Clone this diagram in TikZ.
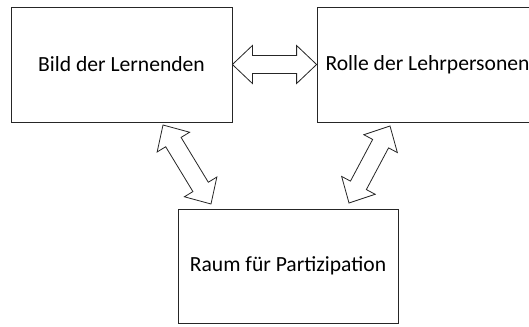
\documentclass[tikz,border=0pt]{standalone}
\usepackage{fontspec}
\setmainfont{Carlito}
\usepackage{tikz}
\usetikzlibrary{calc}
\tikzstyle{box}=[rectangle,draw=black!85,line width=0.8pt,minimum width=221pt,minimum height=115pt,font=\fontsize{21.6}{25}\selectfont]
\tikzset{blockarrow/.style={draw=black!85,fill=white,line width=0.8pt,line join=miter}}
\newcommand*{\dblarrow}[2]{
    \draw [blockarrow] (#1)
      -- ($(#1)!20pt!(#2)!19pt!90:(#2)$) -- ($(#1)!20pt!(#2)!9pt!90:(#2)$)
      -- ($(#2)!20pt!(#1)!9pt!-90:(#1)$) -- ($(#2)!20pt!(#1)!19pt!-90:(#1)$)
      -- (#2)
      -- ($(#2)!20pt!(#1)!19pt!90:(#1)$) -- ($(#2)!20pt!(#1)!9pt!90:(#1)$)
      -- ($(#1)!20pt!(#2)!9pt!-90:(#2)$) -- ($(#1)!20pt!(#2)!19pt!-90:(#2)$)
      -- cycle;
}
\begin{document}
\begin{tikzpicture}[x=1pt,y=-1pt]
    \useasboundingbox (0,0) rectangle (529,326);
    \clip (0,0) rectangle (529,326);
    \node [box] (bild) at (121.5,64.5) {Bild der Lernenden};
    \node [box] (rolle) at (427.5,64.5) {Rolle der Lehrpersonen};
    \node [box,minimum width=220pt,minimum height=114pt] (raum) at (288,266) {Raum für Partizipation};

    \coordinate (bildA) at (163,125);
    \coordinate (raumA) at (211,204);
    \coordinate (rolleA) at (390,126);
    \coordinate (raumB) at (349,203);

    \dblarrow{bild.east}{rolle.west}
    \dblarrow{bildA}{raumA}
    \dblarrow{rolleA}{raumB}
\end{tikzpicture}
\end{document}
